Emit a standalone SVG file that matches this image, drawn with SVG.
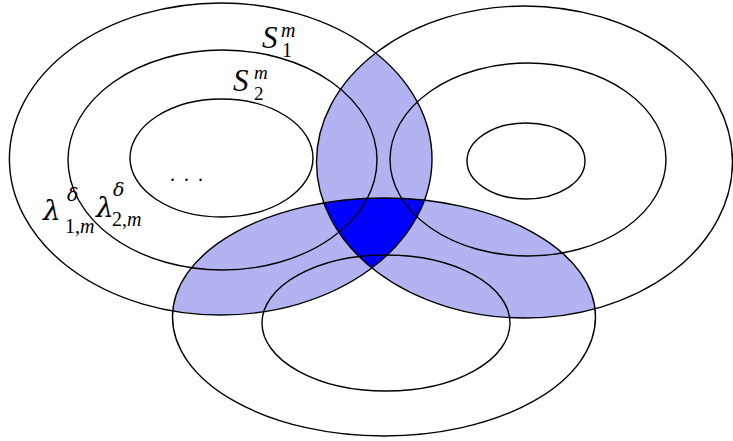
<svg xmlns="http://www.w3.org/2000/svg" width="733" height="441" viewBox="0 0 733 441">
<style>
.o{fill:none;stroke:#000;stroke-width:1.4}
.lt{fill:#b3b3f2}
.dk{fill:#0000ff}
.t{font-family:"Liberation Serif","DejaVu Serif",serif;fill:#000}
.i{font-style:italic}
.g{font-family:"DejaVu Serif",serif;font-style:italic}
</style>
<defs>
<clipPath id="cL"><ellipse cx="220.7" cy="159" rx="211.3" ry="156"/></clipPath>
<clipPath id="cR"><ellipse cx="524.5" cy="162" rx="208" ry="156"/></clipPath>
</defs>
<rect width="733" height="441" fill="#fff"/>
<g id="shading">
<ellipse class="lt" cx="524.5" cy="162" rx="208" ry="156" clip-path="url(#cL)"/>
<ellipse class="lt" cx="384" cy="317" rx="211.5" ry="119" clip-path="url(#cL)"/>
<ellipse class="lt" cx="384" cy="317" rx="211.5" ry="119" clip-path="url(#cR)"/>
<g clip-path="url(#cR)"><ellipse class="dk" cx="384" cy="317" rx="211.5" ry="119" clip-path="url(#cL)"/></g>
</g>
<g id="left-outer"><ellipse class="o" cx="220.7" cy="159" rx="211.3" ry="156"/></g>
<g id="left-middle"><ellipse class="o" cx="222.5" cy="160" rx="154.5" ry="110"/></g>
<g id="left-inner"><ellipse class="o" cx="221.5" cy="158" rx="91.5" ry="59"/></g>
<g id="right-outer"><ellipse class="o" cx="524.5" cy="162" rx="208" ry="156"/></g>
<g id="right-middle"><ellipse class="o" cx="528" cy="159.5" rx="138" ry="96.5"/></g>
<g id="right-inner"><ellipse class="o" cx="526" cy="161" rx="59" ry="38"/></g>
<g id="bottom-outer"><ellipse class="o" cx="384" cy="317" rx="211.5" ry="119"/></g>
<g id="bottom-inner"><ellipse class="o" cx="386" cy="323" rx="124" ry="68"/></g>
<g id="labels">
<text class="t"><tspan class="i" x="262" y="48" font-size="31">S</tspan><tspan class="i" x="281" y="37" font-size="20">m</tspan><tspan x="282" y="57" font-size="20">1</tspan></text>
<text class="t"><tspan class="i" x="233" y="91" font-size="31">S</tspan><tspan class="i" x="254" y="79" font-size="19">m</tspan><tspan x="254" y="100" font-size="19">2</tspan></text>
<text class="t" x="170" y="181" font-size="20" letter-spacing="9">...</text>
<text class="t"><tspan class="g" x="43" y="220" font-size="28">λ</tspan><tspan class="g" x="67" y="201" font-size="19">δ</tspan><tspan x="65" y="233" font-size="20">1,</tspan><tspan class="i" font-size="20">m</tspan></text>
<text class="t"><tspan class="g" x="96" y="217" font-size="28">λ</tspan><tspan class="g" x="113" y="196" font-size="19">δ</tspan><tspan x="112" y="226" font-size="20">2,</tspan><tspan class="i" font-size="20">m</tspan></text>
</g>
</svg>
